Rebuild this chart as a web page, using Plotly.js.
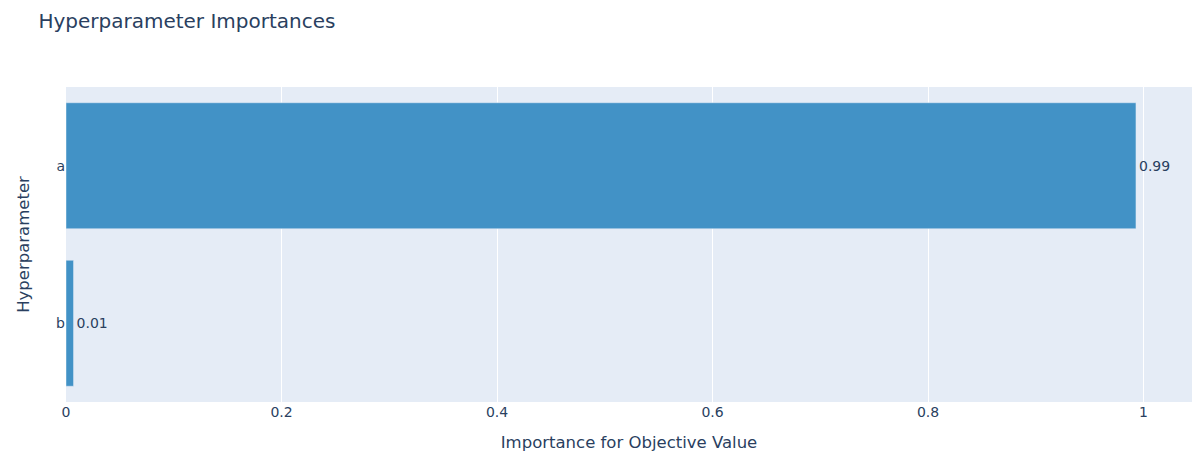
<!DOCTYPE html>
<html>
<head>
<meta charset="utf-8">
<script src="https://cdn.plot.ly/plotly-3.0.1.min.js"></script>
<style>
  html, body { margin: 0; padding: 0; background: #fff; }
  #chart { width: 1200px; height: 462px; }
</style>
</head>
<body>
<div id="chart"></div>
<script>
// hyperparameter names, least important first (bottom to top)
const params = ["b", "a"];
const importances = [0.007, 0.993];
const labels = ["0.01", "0.99"];

const font = "'DejaVu Sans', Verdana, sans-serif";

Plotly.newPlot(
  "chart",
  [
    {
      type: "bar",
      orientation: "h",
      x: importances,
      y: params,
      text: labels,
      textposition: "outside",
      cliponaxis: false,
      textfont: { size: 14, color: "#2a3f5f" },
      marker: { color: "rgb(66,146,198)", line: { color: "#E5ECF6", width: 0.5 } },
      hovertemplate: "%{y}: %{x}<extra></extra>",
    },
  ],
  {
    width: 1200,
    height: 462,
    margin: { l: 66, r: 8, t: 87, b: 60 },
    font: { family: font, color: "#2a3f5f", size: 14 },
    paper_bgcolor: "#fff",
    plot_bgcolor: "#E5ECF6",
    title: {
      text: "Hyperparameter Importances",
      x: 0.032,
      xanchor: "left",
      y: 0.97,
      font: { size: 20 },
    },
    xaxis: {
      title: { text: "Importance for Objective Value", font: { size: 16.5 }, standoff: 17 },
      automargin: true,
      range: [0, 1.045],
      gridcolor: "white",
      zeroline: false,
      tickfont: { size: 14 },
      tickvals: [0, 0.2, 0.4, 0.6, 0.8, 1],
      ticktext: ["0", "0.2", "0.4", "0.6", "0.8", "1"],
    },
    yaxis: {
      title: { text: "Hyperparameter", font: { size: 16.5 }, standoff: 22 },
      automargin: true,
      showgrid: false,
      tickfont: { size: 14 },
      ticklen: 0,
    },
    showlegend: false,
  },
  { displayModeBar: false },
);
</script>
</body>
</html>
